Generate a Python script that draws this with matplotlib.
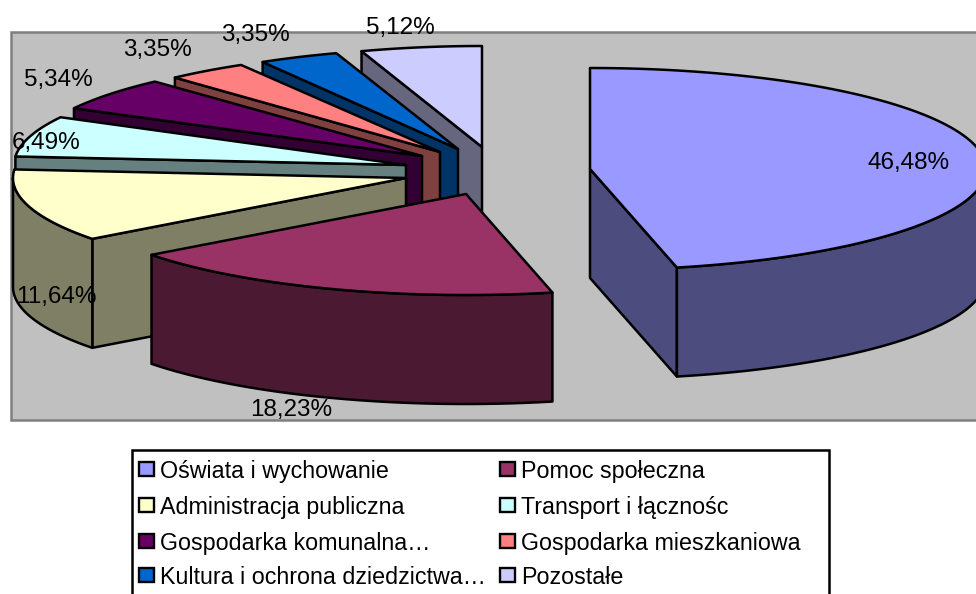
import numpy as np
import matplotlib
matplotlib.use("Agg")
import matplotlib.pyplot as plt
from matplotlib.patches import Polygon, Rectangle

plt.rcParams['font.family'] = ['Liberation Sans', 'DejaVu Sans']

categories = ["Oświata i wychowanie", "Pomoc społeczna", "Administracja publiczna",
              "Transport i łącznośc", "Gospodarka komunalna…", "Gospodarka mieszkaniowa",
              "Kultura i ochrona dziedzictwa…", "Pozostałe"]
values = [46.48, 18.23, 11.64, 6.49, 5.34, 3.35, 3.35, 5.12]
top_colors = ["#9999FF", "#993366", "#FFFFCC", "#CCFFFF", "#660066", "#FF8080", "#0066CC", "#CCCCFF"]
side_colors = ["#4C4C7F", "#4C1933", "#7F7F66", "#667F7F", "#330033", "#7F4040", "#003366", "#66667F"]

# layout of the exploded pie, in pixels
apex_x = [590, 466, 406, 406, 422, 440, 458, 482]
apex_y = [169, 194, 178, 165, 156, 152, 149, 147]
radius_x = [396, 394, 393, 392, 395, 392, 385, 381]
radius_y = 101
depth = 109
label_xy = [(909, 163), (291, 410), (56, 297), (46, 143), (58, 80), (157, 50), (255, 35), (400, 28)]
legend_rows = [469, 505, 541, 575]
legend_swatch_x = [139, 500]
legend_text_x = [160, 521]

W, H = 976, 594
fig = plt.figure(figsize=(W / 100, H / 100), dpi=100)
ax = fig.add_axes([0, 0, 1, 1])
ax.set_xlim(0, W)
ax.set_ylim(H, 0)
ax.axis('off')

ax.add_patch(Rectangle((11, 32), 990, 388, fc="#C0C0C0", ec="#808080", lw=1.8, zorder=1))

fractions = np.array(values) / sum(values)
edges = np.concatenate([[0], np.cumsum(fractions)]) * 360
LW = 1.8


def point(i, deg, dz=0):
    t = np.radians(deg)
    return (apex_x[i] + radius_x[i] * np.sin(t),
            apex_y[i] - radius_y * np.cos(t) + dz)


def poly(pts, fc, z):
    ax.add_patch(Polygon(np.array(pts), closed=True, fc=fc, ec="black", lw=LW,
                         joinstyle='round', zorder=z))


for i in range(len(values) - 1, -1, -1):
    z = 10 + 5 * (len(values) - i)
    a0, a1 = edges[i], edges[i + 1]
    apex = (apex_x[i], apex_y[i])
    apex_low = (apex_x[i], apex_y[i] + depth)
    # radial walls that face the viewer
    if np.sin(np.radians(a0)) < -1e-6:
        poly([apex, point(i, a0), point(i, a0, depth), apex_low], side_colors[i], z)
    if np.sin(np.radians(a1)) > 1e-6:
        poly([apex, point(i, a1), point(i, a1, depth), apex_low], side_colors[i], z)
    # outer rim, front half only
    lo, hi = max(a0, 90), min(a1, 270)
    if hi > lo:
        arc = np.linspace(lo, hi, 120)
        pts = [point(i, d) for d in arc] + [point(i, d, depth) for d in arc[::-1]]
        poly(pts, side_colors[i], z + 1)
    # top face
    arc = np.linspace(a0, a1, 200)
    poly([apex] + [point(i, d) for d in arc], top_colors[i], z + 2)

for v, (x, y) in zip(values, label_xy):
    ax.text(x, y, f"{v:.2f}%".replace('.', ','), ha='center', va='center',
            fontsize=17.5, color='black', zorder=100)

# legend
ax.add_patch(Rectangle((132, 450), 697, 170, fc='white', ec='black', lw=1.8, zorder=50))
for k, name in enumerate(categories):
    col = k % 2
    y = legend_rows[k // 2]
    ax.add_patch(Rectangle((legend_swatch_x[col], y - 7), 15, 14, fc=top_colors[k],
                           ec='black', lw=1.7, zorder=51))
    ax.text(legend_text_x[col], y, name, ha='left', va='center_baseline',
            fontsize=16.75, color='black', zorder=51)

fig.savefig("out.png", dpi=100)
